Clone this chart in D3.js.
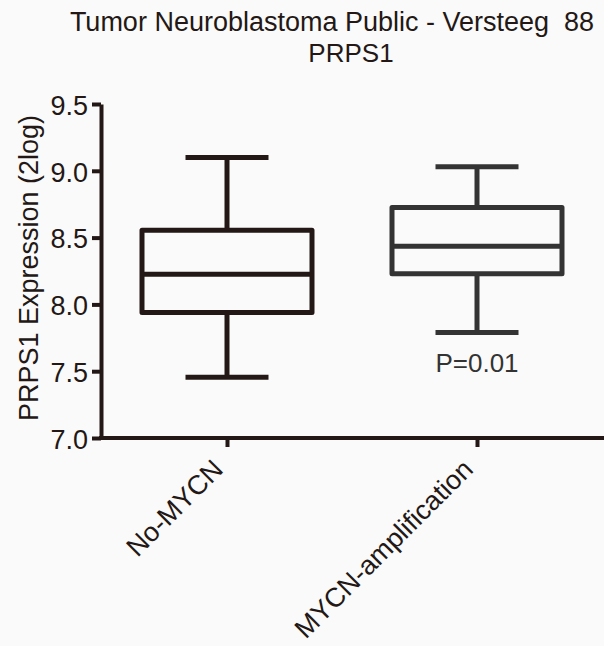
<!doctype html>
<html lang="en">
  <head>
    <meta charset="utf-8">
    <title>PRPS1 boxplot</title>
    <style>
      body { margin: 0; background: #fafafa; }
      text { font-family: "Liberation Sans", Arial, sans-serif; fill: #231815; }
    </style>
  </head>
  <body>
    <div class="container"></div>

    <script src="https://cdn.jsdelivr.net/npm/d3@7/dist/d3.min.js"></script>
    <script>

    // groups and their box stats
    var groups = ["No-MYCN", "MYCN-amplification"];
    var whiskerLow  = [7.455, 7.79];
    var q1          = [7.94, 8.23];
    var median      = [8.225, 8.435];
    var q3          = [8.555, 8.725];
    var whiskerHigh = [9.10, 9.03];
    var boxColors   = ["#231815", "#333333"];
    var pLabels     = ["", "P=0.01"];
    var yTicks      = [7.0, 7.5, 8.0, 8.5, 9.0, 9.5];

    var svg = d3.select(".container")
        .append("svg")
        .attr("width", 604)
        .attr("height", 646);

    var y = d3.scaleLinear()
        .domain([7, 9.5])
        .range([438, 104]);

    var x = d3.scalePoint()
        .domain(groups)
        .range([102, 602])
        .padding(0.5);

    // title
    svg.append("text")
        .attr("x", 332)
        .attr("y", 31)
        .attr("text-anchor", "middle")
        .style("font-size", "27px")
        .style("white-space", "pre")
        .text("Tumor Neuroblastoma Public - Versteeg  88");

    svg.append("text")
        .attr("x", 351)
        .attr("y", 62)
        .attr("text-anchor", "middle")
        .style("font-size", "26px")
        .text("PRPS1");

    // y axis
    var yAxis = svg.append("g")
        .attr("transform", "translate(101,0)")
        .call(d3.axisLeft(y).tickValues(yTicks).tickFormat(d3.format(".1f")).tickSize(9).tickSizeOuter(0).tickPadding(4));

    yAxis.select(".domain").attr("stroke", "#231815").attr("stroke-width", 4);
    yAxis.selectAll(".tick line").attr("stroke", "#231815").attr("stroke-width", 4);
    yAxis.selectAll(".tick text")
        .style("font-size", "27px")
        .style("font-family", "'Liberation Sans', Arial, sans-serif")
        .attr("fill", "#231815")
        .attr("dy", "0.38em");

    svg.append("text")
        .attr("transform", "translate(38,268) rotate(-90)")
        .attr("text-anchor", "middle")
        .style("font-size", "27px")
        .text("PRPS1 Expression (2log)");

    // x axis
    var xAxis = svg.append("g")
        .attr("transform", "translate(0,438)")
        .call(d3.axisBottom(x).tickSize(9).tickSizeOuter(0));

    xAxis.select(".domain").attr("d", "M99,0H604").attr("stroke", "#231815").attr("stroke-width", 4);
    xAxis.selectAll(".tick line").attr("stroke", "#231815").attr("stroke-width", 4);
    xAxis.selectAll(".tick text")
        .style("font-size", "27px")
        .style("font-family", "'Liberation Sans', Arial, sans-serif")
        .attr("fill", "#231815")
        .attr("text-anchor", "end")
        .attr("y", 0)
        .attr("dy", 0)
        .attr("transform", "translate(-3,33) rotate(-45)");

    // boxes
    var boxW = 170, capW = 83;
    var boxes = svg.selectAll("g.box")
        .data(groups)
        .join("g")
        .attr("class", "box")
        .attr("stroke", function(d, i){ return boxColors[i]; })
        .attr("stroke-width", 5)
        .attr("fill", "none")
        .attr("stroke-linejoin", "round");

    // whisker stems
    boxes.append("line")
        .attr("x1", function(d){ return x(d); })
        .attr("x2", function(d){ return x(d); })
        .attr("y1", function(d, i){ return y(whiskerHigh[i]); })
        .attr("y2", function(d, i){ return y(q3[i]); });
    boxes.append("line")
        .attr("x1", function(d){ return x(d); })
        .attr("x2", function(d){ return x(d); })
        .attr("y1", function(d, i){ return y(q1[i]); })
        .attr("y2", function(d, i){ return y(whiskerLow[i]); });

    // caps
    boxes.append("line")
        .attr("x1", function(d){ return x(d) - capW / 2; })
        .attr("x2", function(d){ return x(d) + capW / 2; })
        .attr("y1", function(d, i){ return y(whiskerHigh[i]); })
        .attr("y2", function(d, i){ return y(whiskerHigh[i]); });
    boxes.append("line")
        .attr("x1", function(d){ return x(d) - capW / 2; })
        .attr("x2", function(d){ return x(d) + capW / 2; })
        .attr("y1", function(d, i){ return y(whiskerLow[i]); })
        .attr("y2", function(d, i){ return y(whiskerLow[i]); });

    // box + median
    boxes.append("rect")
        .attr("x", function(d){ return x(d) - boxW / 2; })
        .attr("width", boxW)
        .attr("y", function(d, i){ return y(q3[i]); })
        .attr("height", function(d, i){ return y(q1[i]) - y(q3[i]); });
    boxes.append("line")
        .attr("x1", function(d){ return x(d) - boxW / 2; })
        .attr("x2", function(d){ return x(d) + boxW / 2; })
        .attr("y1", function(d, i){ return y(median[i]); })
        .attr("y2", function(d, i){ return y(median[i]); });

    // p value
    svg.selectAll("text.pval")
        .data(groups)
        .join("text")
        .attr("class", "pval")
        .attr("x", function(d){ return x(d); })
        .attr("y", function(d, i){ return y(whiskerLow[i]) + 40; })
        .attr("text-anchor", "middle")
        .style("font-size", "26px")
        .style("fill", "#333333")
        .text(function(d, i){ return pLabels[i]; });

    </script>
  </body>
</html>
